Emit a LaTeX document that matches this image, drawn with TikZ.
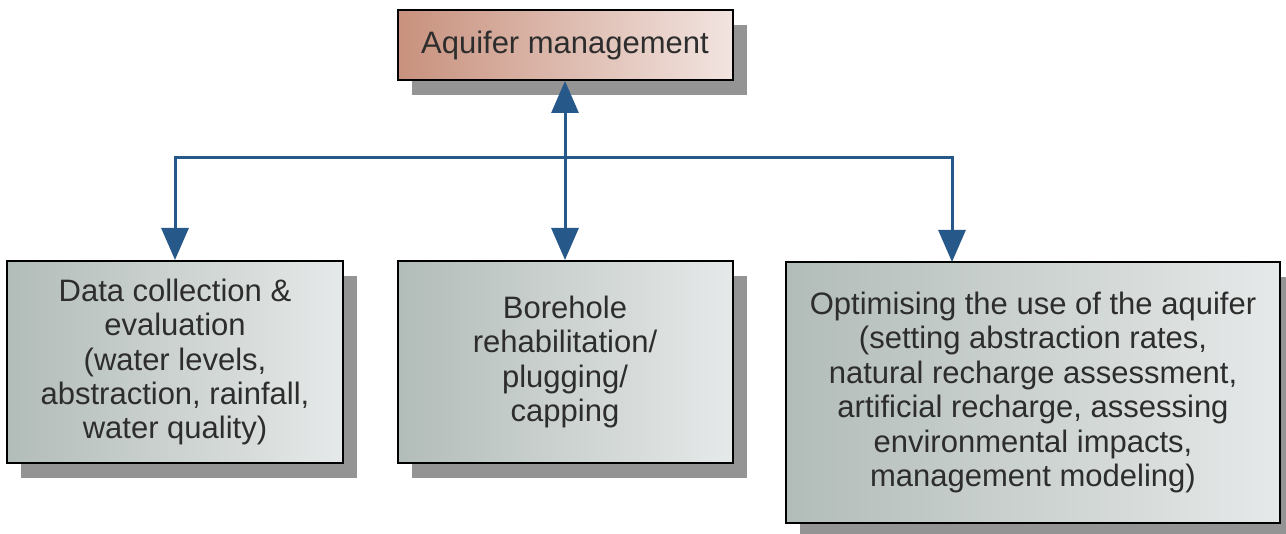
\documentclass[tikz,border=0pt]{standalone}
\usepackage{fontspec}
\setmainfont{Liberation Sans}
\usetikzlibrary{arrows.meta,positioning,shadows}

\definecolor{arrowblue}{RGB}{38,88,138}
\definecolor{boxtext}{RGB}{45,45,45}

\begin{document}
\begin{tikzpicture}[x=0.5pt,y=-0.5pt,font=\fontsize{15.5}{17.2}\selectfont,
  box/.style={draw=black,line width=1pt,align=center,text=boxtext,shading=axis,shading angle=90,
    left color={rgb,255:red,178;green,188;blue,184},right color={rgb,255:red,230;green,233;blue,233},
    drop shadow={shadow xshift=7pt,shadow yshift=-7.5pt,fill=black!42,opacity=1}},
  topbox/.style={box,left color={rgb,255:red,200;green,145;blue,125},right color={rgb,255:red,242;green,228;blue,224}},
  link/.style={color=arrowblue,line width=1.5pt,-{Triangle[length=16pt,width=13.5pt]}}]
  \useasboundingbox (0,0) rectangle (1286,534);
  \node[topbox,minimum width=167.5pt,minimum height=35pt] (top) at (565,45) {Aquifer management};
  \node[box,minimum width=168pt,minimum height=101pt] (left) at (175,362) {Data collection \&\\evaluation\\(water levels,\\abstraction, rainfall,\\water quality)};
  \node[box,minimum width=167.5pt,minimum height=101pt] (mid) at (565,362) {Borehole\\rehabilitation/\\plugging/\\capping};
  \node[box,minimum width=247pt,minimum height=130.5pt] (right) at (1033,392.5) {Optimising the use of the aquifer\\(setting abstraction rates,\\natural recharge assessment,\\artificial recharge, assessing\\environmental impacts,\\management modeling)};
  \coordinate (bus) at (565,158);
  \coordinate (rtip) at (952,262);
  \draw[link,{Triangle[length=16pt,width=13.5pt]}-{Triangle[length=16pt,width=13.5pt]}] (mid.north) -- (top.south);
  \draw[link] (bus) -| (left);
  \draw[link] (bus) -| (rtip);
\end{tikzpicture}
\end{document}
